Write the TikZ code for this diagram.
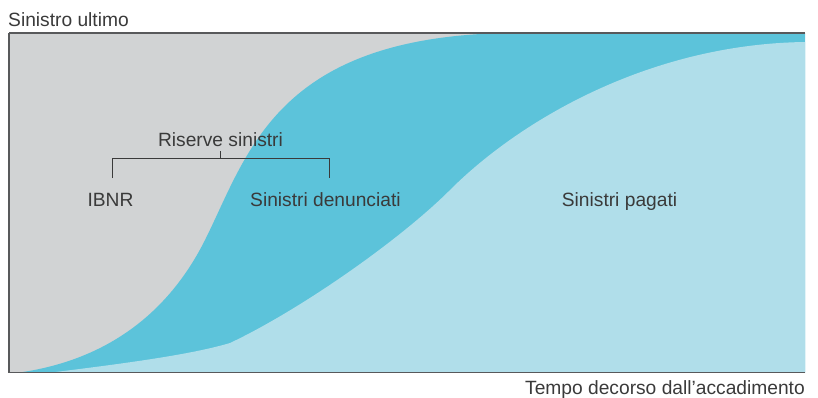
\documentclass[tikz,border=0pt]{standalone}
\usepackage{fontspec}
\setmainfont{Liberation Sans}
\definecolor{bggray}{HTML}{D1D3D4}
\definecolor{darkblue}{HTML}{5CC3DA}
\definecolor{lightblue}{HTML}{B0DEEA}
\definecolor{txtgray}{HTML}{3A3A3A}
\definecolor{axisgray}{HTML}{58595B}
\tikzset{
  lbl/.style={inner sep=0pt, text=txtgray, font=\fontsize{19.2}{22}\selectfont},
  axisline/.style={draw=axisgray, line width=1.3pt},
  bracketline/.style={draw=txtgray, line width=1pt}
}
\begin{document}
\begin{tikzpicture}[x=1pt,y=-1pt]
\useasboundingbox (0,0) rectangle (818,397);
% background
\fill[bggray] (9,33) rectangle (805,372.7);
% reported (dark blue)
\fill[darkblue] (18,372.7) .. controls (110,360) and (170,310) .. (205,240)
  .. controls (248,154) and (275,38) .. (505,33)
  -- (805,33) -- (805,372.7) -- cycle;
% paid (light blue)
\fill[lightblue] (50,372.7) .. controls (120,364) and (190,355) .. (230,343)
  .. controls (300,310) and (400,240) .. (450,190)
  .. controls (520,120) and (650,44) .. (805,42)
  -- (805,372.7) -- cycle;
% axes
\draw[axisline] (9,33) -- (805,33);
\draw[axisline] (9,33) -- (9,372.7) -- (805,372.7);
% labels
\node[lbl, anchor=base west] (yl) at (8,26) {Sinistro ultimo};
\node[lbl, anchor=base east] (xl) at (805,394) {Tempo decorso dall’accadimento};
\node[lbl, anchor=base] (ris) at (220.5,146.5) {Riserve sinistri};
\node[lbl, anchor=base] (ibnr) at (110.5,206.7) {IBNR};
\node[lbl, anchor=base west] (den) at (250,206.7) {Sinistri denunciati};
\node[lbl, anchor=base west] (pag) at (561.7,206.7) {Sinistri pagati};
% bracket
\coordinate (bl) at (112,178);
\coordinate (br) at (329,178);
\coordinate (bm) at (220.7,151);
\draw[bracketline] (bl) -- (112,158) -- (329,158) -- (br);
\draw[bracketline] (bm) -- (220.7,158);
\end{tikzpicture}
\end{document}
